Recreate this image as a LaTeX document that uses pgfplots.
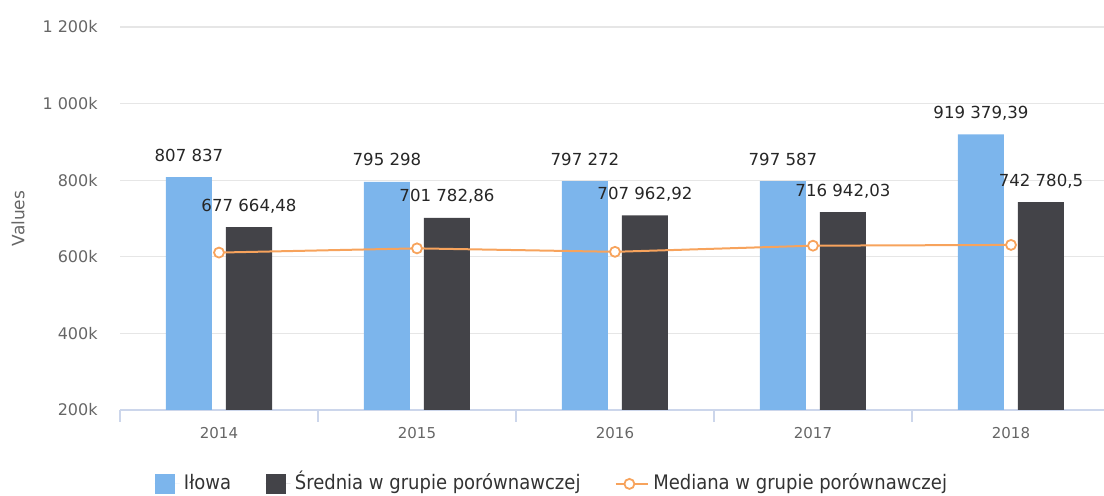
\documentclass[border=0pt]{standalone}
\usepackage{pgfplots}
\pgfplotsset{compat=1.18}
\usepackage{fontspec}
\setmainfont{DejaVu Sans}
\newfontfamily\condfont{DejaVu Sans Condensed}
\definecolor{cblue}{HTML}{7CB5EC}
\definecolor{cdark}{HTML}{434348}
\definecolor{corange}{HTML}{F7A35C}
\definecolor{cgrid}{HTML}{E6E6E6}
\definecolor{caxis}{HTML}{CCD6EB}
\definecolor{ctick}{HTML}{666666}
\definecolor{ctext}{HTML}{333333}
\pgfplotsset{
  sqlegend/.style={legend image code/.code={\path (0pt,0pt) -- (12.5pt,0pt); \fill[##1] (0pt,-5pt) rectangle (10pt,5pt);}},
  linelegend/.style={legend image code/.code={\path (0pt,0pt) -- (16pt,0pt); \draw[mark repeat=2, mark phase=2, ##1] plot coordinates {(0pt,0pt) (6.75pt,0pt) (13.5pt,0pt)};}},
}
\begin{document}
\begin{tikzpicture}
\useasboundingbox (0,0) rectangle (552pt,248pt);
\begin{axis}[
  at={(60pt,43pt)}, anchor=south west,
  scale only axis, width=495pt, height=191.5pt,
  xmin=-0.5, xmax=4.5, ymin=200000, ymax=1200000,
  xtick={0,1,2,3,4}, xticklabels={2014,2015,2016,2017,2018},
  minor xtick={-0.5,0.5,1.5,2.5,3.5,4.5},
  ytick={200000,400000,600000,800000,1000000,1200000},
  yticklabels={200k,400k,600k,800k,1 000k,1 200k},
  scaled y ticks=false,
  axis x line*=bottom, axis y line*=left,
  x axis line style={draw=caxis, line width=0.6pt, -},
  y axis line style={draw=none},
  major tick style={draw=none}, major tick length=0pt,
  minor tick style={draw=caxis, line width=0.6pt}, minor tick length=6pt,
  tick align=outside,
  ymajorgrids, xminorgrids=false, grid style={draw=cgrid, line width=0.6pt},
  xticklabel style={font=\fontsize{7.5pt}{9pt}\selectfont, text=ctick, yshift=-5pt},
  yticklabel style={font=\fontsize{8pt}{9pt}\selectfont, text=ctick, anchor=east, inner sep=0pt, xshift=-11pt},
  ylabel={Values},
  every axis y label/.style={at={(rel axis cs:0,0.5)}, xshift=-51pt, rotate=90, anchor=center, font=\fontsize{8.5pt}{10pt}\selectfont, text=ctick},
  legend columns=3,
  legend style={draw=none, fill=none, at={(rel axis cs:0.4374,-0.193)}, anchor=center,
    font=\condfont\fontsize{10pt}{12pt}\selectfont, text=ctext,
    /tikz/every even column/.append style={column sep=15pt},
    nodes={inner xsep=2.2pt, inner ysep=0pt, text height=7.5pt, text depth=2pt}},
  clip=true,
]
\addplot[ybar, bar width=23pt, bar shift=-15pt, fill=cblue, draw=none,
  point meta=explicit symbolic, nodes near coords,
  every node near coord/.append style={anchor=base, xshift=-15pt, yshift=8pt, inner sep=0pt, font=\fontsize{8.3pt}{10pt}\selectfont, text=black!85},
  sqlegend]
  coordinates {(0,807837) [807 837] (1,795298) [795 298] (2,797272) [797 272] (3,797587) [797 587] (4,919379.39) [919 379,39]};
\addlegendentry{Iłowa}
\addplot[ybar, bar width=23pt, bar shift=15pt, fill=cdark, draw=none,
  point meta=explicit symbolic, nodes near coords,
  every node near coord/.append style={anchor=base, xshift=15pt, yshift=8pt, inner sep=0pt, font=\fontsize{8.3pt}{10pt}\selectfont, text=black!85},
  sqlegend]
  coordinates {(0,677664.48) [677 664,48] (1,701782.86) [701 782,86] (2,707962.92) [707 962,92] (3,716942.03) [716 942,03] (4,742780.5) [742 780,5]};
\addlegendentry{Średnia w grupie porównawczej}
\addplot[sharp plot, draw=corange, line width=1pt, mark=*, mark size=2.5pt,
  mark options={fill=white, draw=corange, line width=0.9pt},
  linelegend]
  coordinates {(0,611000) (1,622000) (2,613000) (3,629000) (4,631000)};
\addlegendentry{Mediana w grupie porównawczej}
\end{axis}
\end{tikzpicture}
\end{document}
